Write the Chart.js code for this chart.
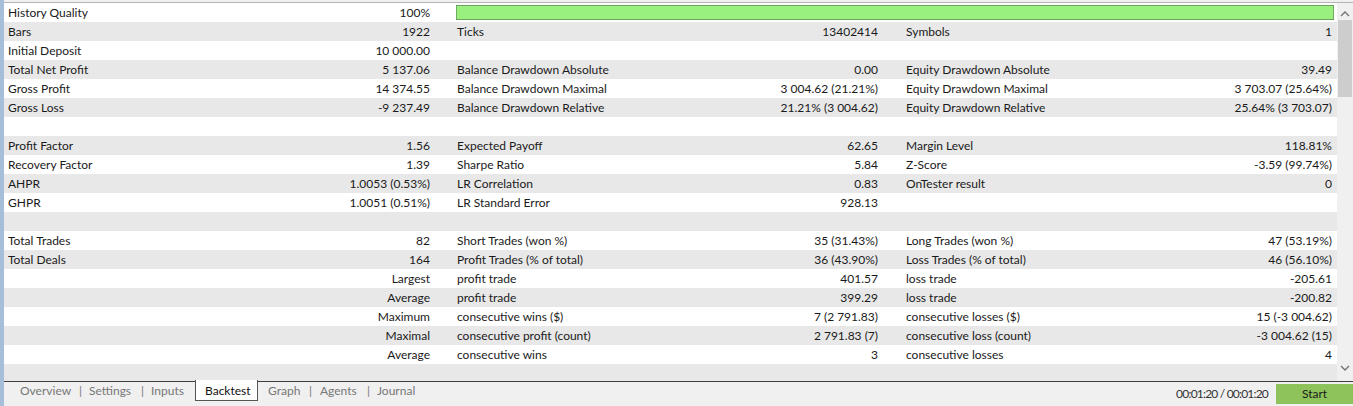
<!DOCTYPE html>
<html lang="en">
<head>
    <meta charset="UTF-8">
    <title>Backtest</title>
    <script src="https://cdn.jsdelivr.net/npm/chart.js"></script>
    <style>
        html, body { margin: 0; padding: 0; }
        body { width: 1353px; height: 406px; position: relative; overflow: hidden; background: #f0f0f0;
               font-family: Lato, "Noto Sans", sans-serif; font-size: 12px; color: #1a1a1a; }
        .edge { position: absolute; left: 0; top: 0; width: 4px; height: 406px; background: #a7bedb; }
        .topline { position: absolute; left: 4px; top: 2px; width: 1349px; height: 1px; background: #b4b4b4; }
        .table { position: absolute; left: 4px; top: 3px; width: 1333px; height: 378px; overflow: hidden; background: #fff; }
        .row { position: absolute; left: 0; width: 1333px; height: 19px; line-height: 19px; white-space: nowrap; }
        .row.odd { background: #e8e8e8; }
        .row span { position: absolute; top: 0; }
        .lab1 { left: 4px; }   .val1 { right: 907px; text-align: right; }
        .lab2 { left: 453px; } .val2 { right: 459px; text-align: right; }
        .lab3 { left: 902px; } .val3 { right: 5px; text-align: right; }
        #qualityBox { position: absolute; left: 456px; top: 5px; width: 878px; height: 15px; }
        .scroll { position: absolute; left: 1337px; top: 3px; width: 16px; height: 378px; background: #f0f0f0; }
        .thumb { position: absolute; left: 1px; top: 17px; width: 14px; height: 77px; background: #cdcdcd; }
        .arrow { position: absolute; left: 3px; width: 10px; height: 8px; }
        .tabline { position: absolute; left: 4px; top: 381px; width: 1349px; height: 1px; background: #3f3f3f; }
        .tabs { position: absolute; left: 20px; top: 381px; height: 19px; line-height: 19px; color: #777; white-space: nowrap; }
        .tabs span { position: absolute; top: 0; }
        .tabs .active { color: #111; }
        .activebox { position: absolute; left: 195px; top: 380px; width: 63px; height: 21px; background: #fff;
                     border: 1px solid #555; border-top: none; box-sizing: border-box; }
        .time { position: absolute; right: 85px; top: 384px; line-height: 19px; color: #333; letter-spacing: -0.8px; }
        .start { position: absolute; left: 1276px; top: 384px; width: 77px; height: 20px; background: #8dc35a;
                 line-height: 20px; text-align: center; color: #1a1a1a; }
    </style>
</head>
<body>
    <div class="edge"></div>
    <div class="topline"></div>
    <div class="table" id="table"></div>
    <div id="qualityBox"><canvas id="qualityChart"></canvas></div>
    <div class="scroll">
        <svg class="arrow" style="top:7px" viewBox="0 0 10 8"><polyline points="1,6 5,2 9,6" fill="none" stroke="#707070" stroke-width="1.3"/></svg>
        <div class="thumb"></div>
        <svg class="arrow" style="top:361px" viewBox="0 0 10 8"><polyline points="1,2 5,6 9,2" fill="none" stroke="#707070" stroke-width="1.3"/></svg>
    </div>
    <div class="tabline"></div>
    <div class="activebox"></div>
    <div class="tabs" id="tabs"></div>
    <div class="time" id="time"></div>
    <div class="start">Start</div>

    <script>
        // 报告数据：每列 标签 / 数值
        const col1Labels = ["History Quality", "Bars", "Initial Deposit", "Total Net Profit", "Gross Profit", "Gross Loss", "",
            "Profit Factor", "Recovery Factor", "AHPR", "GHPR", "", "Total Trades", "Total Deals", "", "", "", "", ""];
        const col1Values = ["100%", "1922", "10 000.00", "5 137.06", "14 374.55", "-9 237.49", "",
            "1.56", "1.39", "1.0053 (0.53%)", "1.0051 (0.51%)", "", "82", "164", "Largest", "Average", "Maximum", "Maximal", "Average"];
        const col2Labels = ["", "Ticks", "", "Balance Drawdown Absolute", "Balance Drawdown Maximal", "Balance Drawdown Relative", "",
            "Expected Payoff", "Sharpe Ratio", "LR Correlation", "LR Standard Error", "", "Short Trades (won %)", "Profit Trades (% of total)",
            "profit trade", "profit trade", "consecutive wins ($)", "consecutive profit (count)", "consecutive wins"];
        const col2Values = ["", "13402414", "", "0.00", "3 004.62 (21.21%)", "21.21% (3 004.62)", "",
            "62.65", "5.84", "0.83", "928.13", "", "35 (31.43%)", "36 (43.90%)",
            "401.57", "399.29", "7 (2 791.83)", "2 791.83 (7)", "3"];
        const col3Labels = ["", "Symbols", "", "Equity Drawdown Absolute", "Equity Drawdown Maximal", "Equity Drawdown Relative", "",
            "Margin Level", "Z-Score", "OnTester result", "", "", "Long Trades (won %)", "Loss Trades (% of total)",
            "loss trade", "loss trade", "consecutive losses ($)", "consecutive loss (count)", "consecutive losses"];
        const col3Values = ["", "1", "", "39.49", "3 703.07 (25.64%)", "25.64% (3 703.07)", "",
            "118.81%", "-3.59 (99.74%)", "0", "", "", "47 (53.19%)", "46 (56.10%)",
            "-205.61", "-200.82", "15 (-3 004.62)", "-3 004.62 (15)", "4"];
        const historyQuality = [100];
        const tabLabels = ["Overview", "Settings", "Inputs", "Backtest", "Graph", "Agents", "Journal"];
        const activeTab = "Backtest";
        const testTime = "00:01:20 / 00:01:20";

        document.addEventListener("DOMContentLoaded", function () {
            // 表格行
            let table = document.getElementById("table");
            let rowCount = col1Labels.length + 1; // 最后一行只露出一半
            for (let i = 0; i < rowCount; i++) {
                let row = document.createElement("div");
                row.className = "row" + (i % 2 ? " odd" : "");
                row.style.top = (i * 19) + "px";
                let cells = [
                    ["lab1", col1Labels[i]], ["val1", col1Values[i]],
                    ["lab2", col2Labels[i]], ["val2", col2Values[i]],
                    ["lab3", col3Labels[i]], ["val3", col3Values[i]]
                ];
                cells.forEach(function (c) {
                    if (!c[1]) return;
                    let s = document.createElement("span");
                    s.className = c[0];
                    s.textContent = c[1];
                    row.appendChild(s);
                });
                table.appendChild(row);
            }

            // 底部标签页
            let tabs = document.getElementById("tabs");
            let tabX = [0, 69, 131, 185, 248, 300, 357];
            let sepX = [59, 121, -1, -1, 289, 347];
            tabLabels.forEach(function (t, i) {
                let s = document.createElement("span");
                s.textContent = t;
                s.style.left = tabX[i] + "px";
                if (t === activeTab) s.className = "active";
                tabs.appendChild(s);
                if (i < sepX.length && sepX[i] >= 0) {
                    let p = document.createElement("span");
                    p.textContent = "|";
                    p.style.left = sepX[i] + "px";
                    tabs.appendChild(p);
                }
            });
            document.getElementById("time").textContent = testTime;

            // History Quality 进度条
            let ctx = document.getElementById("qualityChart").getContext("2d");
            new Chart(ctx, {
                type: "bar",
                data: {
                    labels: ["History Quality"],
                    datasets: [{
                        data: historyQuality,
                        backgroundColor: "#99f07f",
                        borderColor: "#5e8a56",
                        borderWidth: 1,
                        borderSkipped: false,
                        barPercentage: 1,
                        categoryPercentage: 1
                    }]
                },
                options: {
                    indexAxis: "y",
                    responsive: true,
                    maintainAspectRatio: false,
                    animation: false,
                    layout: { padding: 0 },
                    scales: {
                        x: { display: false, min: 0, max: 100 },
                        y: { display: false }
                    },
                    plugins: {
                        legend: { display: false },
                        tooltip: { enabled: false }
                    }
                }
            });
        });
    </script>
</body>
</html>
